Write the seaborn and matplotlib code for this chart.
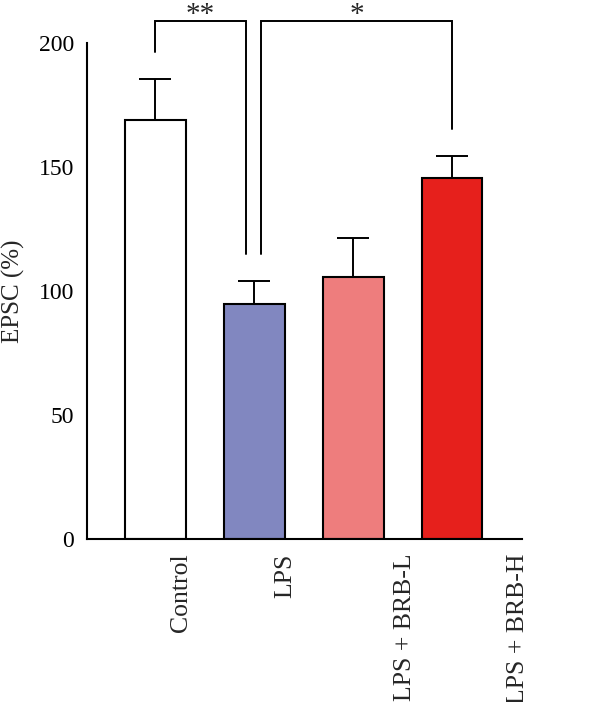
import numpy as np
import pandas as pd
import matplotlib
matplotlib.use("Agg")
import matplotlib.pyplot as plt
import matplotlib.transforms as mtransforms
import seaborn as sns

# ---- data ----
categories = ["Control", "LPS", "LPS + BRB-L", "LPS + BRB-H"]
means = [169.0, 95.0, 105.8, 145.6]
errs = [16.6, 9.2, 15.6, 8.8]
colors = ["#FFFFFF", "#8187C0", "#EE7D7D", "#E6201C"]
yticks = [0, 50, 100, 150, 200]
ylabel = "EPSC (%)"
comparisons = [(0, 1, "**"), (1, 3, "*")]

sns.set_theme(style="white")
plt.rcParams["font.family"] = ["Liberation Serif", "DejaVu Serif"]

df = pd.DataFrame({"group": categories, "value": means})

fig = plt.figure(figsize=(6.0, 7.02), dpi=100)
ax = fig.add_axes([0.1455, 0.2318, 0.7245, 0.7065])

sns.barplot(data=df, x="group", y="value", hue="group", palette=colors,
            order=categories, hue_order=categories, legend=False,
            width=0.616, edgecolor="black", linewidth=1.5, ax=ax,
            errorbar=None, saturation=1, zorder=2)

xpos = np.arange(len(categories))
ax.errorbar(xpos, means, yerr=[np.zeros(len(errs)), errs], fmt="none",
            ecolor="black", elinewidth=1.4, capsize=11.4, capthick=1.4,
            zorder=3)

ax.set_xlim(-0.684, 3.707)
ax.set_ylim(0, 200)
ax.set_yticks(yticks)
ax.set_yticklabels([str(t) for t in yticks], fontsize=17)
ax.set_xlabel("")
ax.set_ylabel(ylabel, fontsize=18, labelpad=10)

for s in ["top", "right"]:
    ax.spines[s].set_visible(False)
for s in ["left", "bottom"]:
    ax.spines[s].set_linewidth(1.5)
    ax.spines[s].set_color("black")

ax.tick_params(axis="y", direction="out", length=6.5, width=1.5, colors="black", pad=3)
ax.tick_params(axis="x", length=0, pad=10)
ax.set_xticks(xpos)
ax.set_xticklabels(categories, rotation=90, fontsize=18.5, va="top", ha="center")
label_dx_px = [26, 31, 52, 66]
for lab, dx in zip(ax.get_xticklabels(), label_dx_px):
    lab.set_transform(lab.get_transform() +
                      mtransforms.ScaledTranslation(dx / 100.0, 0, fig.dpi_scale_trans))

# significance brackets
bar_top = [m + e for m, e in zip(means, errs)]
bracket_y = 209.0
gap = 11.0
lw = 1.4
offsets = [(0.0, -0.084), (0.07, 0.0)]
for (i, j, txt), (dl, dr) in zip(comparisons, offsets):
    xl, xr = i + dl, j + dr
    ax.plot([xl, xl, xr, xr], [bar_top[i] + gap, bracket_y, bracket_y, bar_top[j] + gap],
            color="black", lw=lw, clip_on=False, solid_joinstyle="miter")
    ax.text((xl + xr) / 2, bracket_y - 0.5, txt, ha="center", va="baseline",
            fontsize=21, clip_on=False)

fig.savefig("out.png", dpi=100)
